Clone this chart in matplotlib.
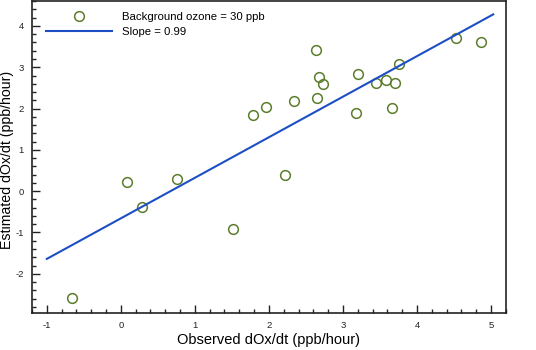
import matplotlib
matplotlib.use("Agg")
import matplotlib.pyplot as plt
from matplotlib.ticker import MultipleLocator

plt.rcParams['font.family'] = ['Liberation Sans', 'DejaVu Sans']
plt.rcParams['axes.unicode_minus'] = False

# observed vs estimated dOx/dt (ppb/hour)
observed = [-0.66, 0.08, 0.29, 0.76, 1.51, 1.78, 1.96, 2.22, 2.34, 2.64, 2.67,
            2.73, 2.65, 3.17, 3.21, 3.44, 3.58, 3.66, 3.70, 3.76, 4.53, 4.86]
estimated = [-2.59, 0.22, -0.39, 0.30, -0.92, 1.85, 2.03, 0.40, 2.18, 3.42, 2.76,
             2.60, 2.26, 1.89, 2.83, 2.63, 2.70, 2.02, 2.61, 3.08, 3.72, 3.60]

# fitted line end points
fit_x = [-1.0, 5.03]
fit_y = [-1.64, 4.28]

x_ticks = [-1, 0, 1, 2, 3, 4, 5]
y_ticks = [-2, -1, 0, 1, 2, 3, 4]

fig = plt.figure(figsize=(5.36, 3.5), dpi=100)
ax = fig.add_axes([0.0597, 0.1057, 0.884, 0.891])

ax.plot(observed, estimated, linestyle='none', marker='o', markersize=7,
        markerfacecolor='none', markeredgecolor='#5b7d2c', markeredgewidth=1.1,
        label='Background ozone = 30 ppb')
ax.plot(fit_x, fit_y, color='#1d4fc4', linewidth=1.5, label='Slope = 0.99')

ax.set_xlim(-1.2, 5.2)
ax.set_ylim(-2.95, 4.6)
ax.set_xticks(x_ticks)
ax.set_yticks(y_ticks)
ax.xaxis.set_minor_locator(MultipleLocator(0.2))
ax.yaxis.set_minor_locator(MultipleLocator(0.2))
ax.tick_params(which='both', direction='in', top=False, right=False,
               labelsize=6.8, width=1.0, colors='#222222')
ax.tick_params(which='major', length=6, pad=6)
ax.tick_params(which='minor', length=3)
for sp in ax.spines.values():
    sp.set_linewidth(1.2)
    sp.set_color('#222222')

ax.set_xlabel('Observed dOx/dt (ppb/hour)', fontsize=10.5, labelpad=2)
ax.set_ylabel('Estimated dOx/dt (ppb/hour)', fontsize=10.2)
ax.yaxis.set_label_coords(-0.039, 0.49)

ax.legend(loc='upper left', bbox_to_anchor=(0.0, 1.01), frameon=False,
          fontsize=8.2, handlelength=5.8, handletextpad=0.9, labelspacing=0.5,
          borderaxespad=0.6, borderpad=0.6)

fig.savefig('out.png', dpi=100)
